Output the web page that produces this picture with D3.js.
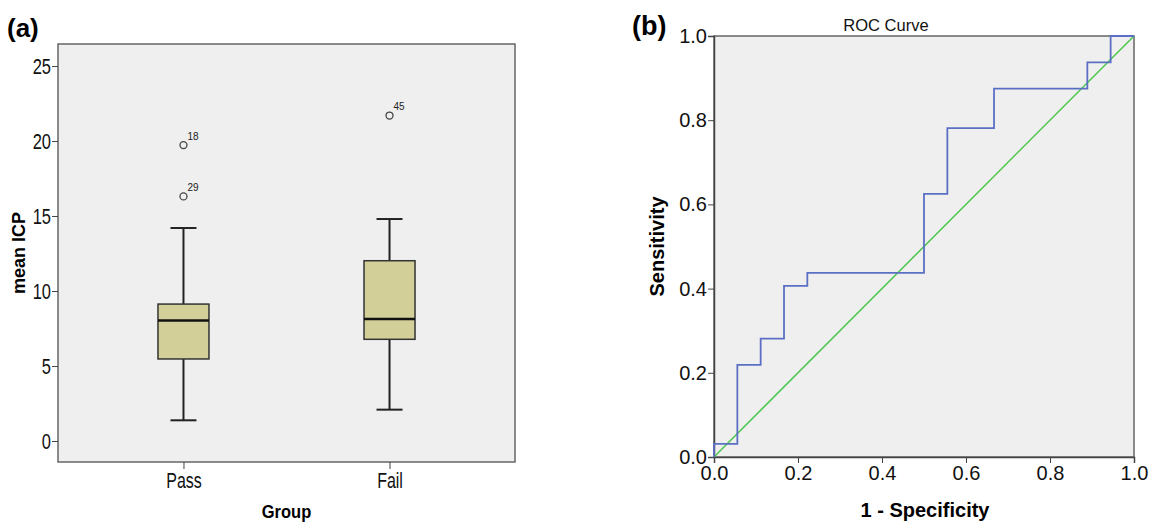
<!DOCTYPE html>
<html>
<head>
<meta charset="utf-8">
<script src="https://cdn.jsdelivr.net/npm/d3@7"></script>
<style>
  body { margin: 0; background: #fff; }
  svg { font-family: "Liberation Sans", Arial, sans-serif; }
</style>
</head>
<body>
<div id="chart"></div>
<script>
// Panel (a) box plot data
const groups = ["Pass", "Fail"];
const whiskerLow = [1.38, 2.09];
const q1 = [5.47, 6.78];
const medians = [8.04, 8.13];
const q3 = [9.13, 12.02];
const whiskerHigh = [14.2, 14.8];
const outlierGroup = ["Pass", "Pass", "Fail"];
const outlierValue = [19.73, 16.31, 21.7];
const outlierLabel = ["18", "29", "45"];
const icpTicks = [0, 5, 10, 15, 20, 25];

// Panel (b) ROC curve points (step, vertical first)
const fpr = [0, 0.0556, 0.1111, 0.1667, 0.2222, 0.5, 0.5556, 0.6667, 0.8889, 0.9444, 1];
const tpr = [0, 0.03125, 0.21875, 0.28125, 0.40625, 0.4375, 0.625, 0.78125, 0.875, 0.9375, 1];
const rocTicks = [0, 0.2, 0.4, 0.6, 0.8, 1.0];

const width = 1151, height = 522;
const svg = d3.select("#chart").append("svg")
    .attr("width", width)
    .attr("height", height);

const frameColor = "#666";
const stretch = 1.33; // panel (a) tick labels are drawn tall and narrow

// ---------- Panel (a) ----------
const a = { left: 58, right: 515, top: 44, bottom: 462 };

const x = d3.scalePoint()
    .domain(groups)
    .range([a.left, a.right])
    .padding(0.609);

const y = d3.scaleLinear()
    .domain([-1.4, 26.47])
    .range([a.bottom, a.top]);

svg.append("text")
    .attr("x", 7).attr("y", 37)
    .style("font-size", "26px").style("font-weight", "bold")
    .text("(a)");

svg.append("rect")
    .attr("x", a.left).attr("y", a.top)
    .attr("width", a.right - a.left).attr("height", a.bottom - a.top)
    .attr("fill", "#efefef").attr("stroke", frameColor).attr("stroke-width", 1.5);

const yAxisA = svg.append("g")
    .attr("transform", `translate(${a.left},0)`)
    .call(d3.axisLeft(y).tickValues(icpTicks).tickSize(6).tickPadding(1));
yAxisA.select(".domain").remove();
yAxisA.selectAll(".tick line").attr("stroke", "#444");
yAxisA.selectAll(".tick text")
    .style("font-size", "16.5px").attr("fill", "#111")
    .attr("transform", `scale(1,${stretch})`);

const xAxisA = svg.append("g")
    .attr("transform", `translate(0,${a.bottom})`)
    .call(d3.axisBottom(x).tickSize(7));
xAxisA.select(".domain").remove();
xAxisA.selectAll(".tick line").attr("stroke", "#444");
xAxisA.selectAll(".tick text")
    .style("font-size", "16px").attr("fill", "#111")
    .attr("dy", 0).attr("y", 26 / stretch)
    .attr("transform", `scale(1,${stretch})`);

svg.append("text")
    .attr("transform", `translate(25,${(a.top + a.bottom) / 2}) rotate(-90)`)
    .attr("text-anchor", "middle")
    .style("font-size", "18px").style("font-weight", "bold")
    .text("mean ICP");

svg.append("text")
    .attr("transform", `translate(${(a.left + a.right) / 2},518) scale(1,1.12)`)
    .attr("text-anchor", "middle")
    .style("font-size", "16.5px").style("font-weight", "bold")
    .text("Group");

const boxW = 51, capW = 26;
const boxes = svg.append("g")
    .selectAll("g")
    .data(groups)
    .join("g");

boxes.append("line")
    .attr("x1", g => x(g)).attr("x2", g => x(g))
    .attr("y1", (g, i) => y(whiskerHigh[i])).attr("y2", (g, i) => y(q3[i]))
    .attr("stroke", "#222").attr("stroke-width", 2);
boxes.append("line")
    .attr("x1", g => x(g)).attr("x2", g => x(g))
    .attr("y1", (g, i) => y(q1[i])).attr("y2", (g, i) => y(whiskerLow[i]))
    .attr("stroke", "#222").attr("stroke-width", 2);
boxes.append("line")
    .attr("x1", g => x(g) - capW / 2).attr("x2", g => x(g) + capW / 2)
    .attr("y1", (g, i) => y(whiskerHigh[i])).attr("y2", (g, i) => y(whiskerHigh[i]))
    .attr("stroke", "#222").attr("stroke-width", 2);
boxes.append("line")
    .attr("x1", g => x(g) - capW / 2).attr("x2", g => x(g) + capW / 2)
    .attr("y1", (g, i) => y(whiskerLow[i])).attr("y2", (g, i) => y(whiskerLow[i]))
    .attr("stroke", "#222").attr("stroke-width", 2);
boxes.append("rect")
    .attr("x", g => x(g) - boxW / 2)
    .attr("y", (g, i) => y(q3[i]))
    .attr("width", boxW)
    .attr("height", (g, i) => y(q1[i]) - y(q3[i]))
    .attr("fill", "#d3cf98").attr("stroke", "#333").attr("stroke-width", 1.5);
boxes.append("line")
    .attr("x1", g => x(g) - boxW / 2).attr("x2", g => x(g) + boxW / 2)
    .attr("y1", (g, i) => y(medians[i])).attr("y2", (g, i) => y(medians[i]))
    .attr("stroke", "#111").attr("stroke-width", 2.5);

const outliers = svg.append("g")
    .selectAll("g")
    .data(outlierValue)
    .join("g")
    .attr("transform", (v, i) => `translate(${x(outlierGroup[i])},${y(v)})`);
outliers.append("circle")
    .attr("r", 3.5)
    .attr("fill", "none").attr("stroke", "#444").attr("stroke-width", 1.3);
outliers.append("text")
    .attr("x", 4).attr("y", -5.5 / 1.12)
    .attr("transform", "scale(1,1.12)")
    .style("font-size", "10px").attr("fill", "#222")
    .text((v, i) => outlierLabel[i]);

// ---------- Panel (b) ----------
const b = { left: 714, right: 1134, top: 36, bottom: 457 };

const xr = d3.scaleLinear().domain([0, 1]).range([b.left, b.right]);
const yr = d3.scaleLinear().domain([0, 1]).range([b.bottom, b.top]);

svg.append("text")
    .attr("x", 632).attr("y", 35)
    .style("font-size", "27px").style("font-weight", "bold")
    .text("(b)");

svg.append("text")
    .attr("x", 886).attr("y", 31)
    .attr("text-anchor", "middle")
    .style("font-size", "16.5px").attr("fill", "#111")
    .text("ROC Curve");

svg.append("rect")
    .attr("x", b.left).attr("y", b.top)
    .attr("width", b.right - b.left).attr("height", b.bottom - b.top)
    .attr("fill", "#efefef").attr("stroke", frameColor).attr("stroke-width", 1.5);

const yAxisB = svg.append("g")
    .attr("transform", `translate(${b.left},0)`)
    .call(d3.axisLeft(yr).tickValues(rocTicks).tickFormat(d3.format(".1f")).tickSize(6).tickPadding(1));
yAxisB.select(".domain").attr("stroke", "#444").attr("stroke-width", 1.5);
yAxisB.selectAll(".tick line").attr("stroke", "#444");
yAxisB.selectAll(".tick text").style("font-size", "20px").attr("fill", "#111");

const xAxisB = svg.append("g")
    .attr("transform", `translate(0,${b.bottom})`)
    .call(d3.axisBottom(xr).tickValues(rocTicks).tickFormat(d3.format(".1f")).tickSize(6).tickPadding(3));
xAxisB.select(".domain").attr("stroke", "#444").attr("stroke-width", 1.5);
xAxisB.selectAll(".tick line").attr("stroke", "#444");
xAxisB.selectAll(".tick text").style("font-size", "20px").attr("fill", "#111");

svg.append("text")
    .attr("transform", `translate(664,${(b.top + b.bottom) / 2}) rotate(-90)`)
    .attr("text-anchor", "middle")
    .style("font-size", "20px").style("font-weight", "bold")
    .text("Sensitivity");

svg.append("text")
    .attr("x", 925).attr("y", 517)
    .attr("text-anchor", "middle")
    .style("font-size", "20px").style("font-weight", "bold")
    .text("1 - Specificity");

// reference diagonal
svg.append("line")
    .attr("x1", xr(0)).attr("y1", yr(0))
    .attr("x2", xr(1)).attr("y2", yr(1))
    .attr("stroke", "#4cc84c").attr("stroke-width", 1.5);

const rocLine = d3.line()
    .x((d, i) => xr(fpr[i]))
    .y((d, i) => yr(tpr[i]))
    .curve(d3.curveStepBefore);

svg.append("path")
    .datum(fpr)
    .attr("d", rocLine)
    .attr("fill", "none")
    .attr("stroke", "#5b6fc4").attr("stroke-width", 1.8);
</script>
</body>
</html>
